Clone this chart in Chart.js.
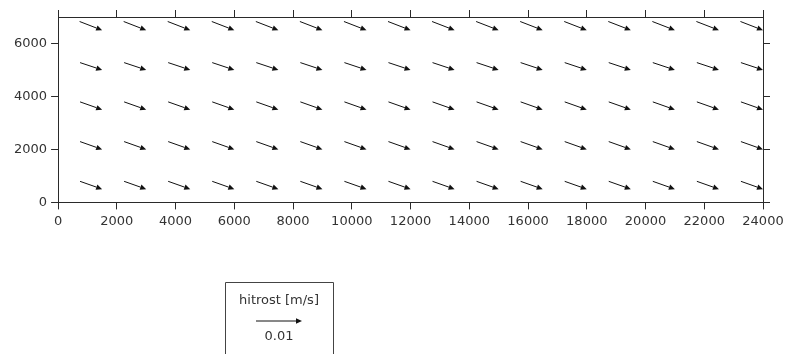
<!DOCTYPE html>
<html>
<head>
<meta charset="utf-8">
<style>
  html, body { margin: 0; padding: 0; background: #fff; }
  #wrap { width: 789px; height: 354px; position: relative; }
</style>
<script src="https://cdn.jsdelivr.net/npm/chart.js@4.4.1/dist/chart.umd.min.js"></script>
</head>
<body>
<div id="wrap"><canvas id="c"></canvas></div>
<script>
// ============ DATA ============
// grid nodes (arrow heads sit on the node)
const xNodes = [1500, 3000, 4500, 6000, 7500, 9000, 10500, 12000, 13500, 15000, 16500, 18000, 19500, 21000, 22500, 24000];
const yNodes = [500, 2000, 3500, 5000, 6500];
// velocity components [m/s], one row per yNode
const uRows = [
  [0.0048,0.0048,0.0048,0.0048,0.0048,0.0048,0.0048,0.0048,0.0048,0.0048,0.0048,0.0048,0.0048,0.0048,0.0048,0.0048],
  [0.0048,0.0048,0.0048,0.0048,0.0048,0.0048,0.0048,0.0048,0.0048,0.0048,0.0048,0.0048,0.0048,0.0048,0.0048,0.0048],
  [0.0048,0.0048,0.0048,0.0048,0.0048,0.0048,0.0048,0.0048,0.0048,0.0048,0.0048,0.0048,0.0048,0.0048,0.0048,0.0048],
  [0.0048,0.0048,0.0048,0.0048,0.0048,0.0048,0.0048,0.0048,0.0048,0.0048,0.0048,0.0048,0.0048,0.0048,0.0048,0.0048],
  [0.0049,0.0049,0.0049,0.0049,0.0049,0.0049,0.0049,0.0049,0.0049,0.0049,0.0049,0.0049,0.0049,0.0049,0.0049,0.0049]
];
const vRows = [
  [-0.0017,-0.0017,-0.0017,-0.0017,-0.0017,-0.0017,-0.0017,-0.0017,-0.0017,-0.0017,-0.0017,-0.0017,-0.0017,-0.0017,-0.0017,-0.0017],
  [-0.0017,-0.0017,-0.0017,-0.0017,-0.0017,-0.0017,-0.0017,-0.0017,-0.0017,-0.0017,-0.0017,-0.0017,-0.0017,-0.0017,-0.0017,-0.0017],
  [-0.0017,-0.0017,-0.0017,-0.0017,-0.0017,-0.0017,-0.0017,-0.0017,-0.0017,-0.0017,-0.0017,-0.0017,-0.0017,-0.0017,-0.0017,-0.0017],
  [-0.0016,-0.0016,-0.0016,-0.0016,-0.0016,-0.0016,-0.0016,-0.0016,-0.0016,-0.0016,-0.0016,-0.0016,-0.0016,-0.0016,-0.0016,-0.0016],
  [-0.0019,-0.0019,-0.0019,-0.0019,-0.0019,-0.0019,-0.0019,-0.0019,-0.0019,-0.0019,-0.0019,-0.0019,-0.0019,-0.0019,-0.0019,-0.0019]
];
const xTicks = [0, 2000, 4000, 6000, 8000, 10000, 12000, 14000, 16000, 18000, 20000, 22000, 24000];
const yTicks = [0, 2000, 4000, 6000];
const legendTitle = 'hitrost [m/s]';
const legendSpeed = 0.01;

// ============ STYLE ============
const PX_PER_MS = 4600;   // arrow length scale, px per m/s
const AX = '#2a2a2a';
const TXT = '#333';
const FAM = "'DejaVu Sans', 'Liberation Sans', Arial, sans-serif";
const FONT = { family: FAM, size: 13 };

function drawArrow(ctx, x0, y0, x1, y1) {
  const ang = Math.atan2(y1 - y0, x1 - x0);
  const hl = 6, hw = 2.7;
  const bx = x1 - hl * Math.cos(ang), by = y1 - hl * Math.sin(ang);
  ctx.beginPath();
  ctx.moveTo(x0, y0);
  ctx.lineTo(bx, by);
  ctx.stroke();
  ctx.beginPath();
  ctx.moveTo(x1, y1);
  ctx.lineTo(bx + hw * Math.sin(ang), by - hw * Math.cos(ang));
  ctx.lineTo(bx - hw * Math.sin(ang), by + hw * Math.cos(ang));
  ctx.closePath();
  ctx.fill();
}

const quiver = {
  id: 'quiver',
  afterDatasetsDraw(chart) {
    const { ctx, scales: { x, y } } = chart;
    ctx.save();
    ctx.strokeStyle = '#111';
    ctx.fillStyle = '#111';
    ctx.lineWidth = 1;
    yNodes.forEach((yv, j) => {
      xNodes.forEach((xv, i) => {
        const hx = x.getPixelForValue(xv), hy = y.getPixelForValue(yv);
        const dx = uRows[j][i] * PX_PER_MS, dy = -vRows[j][i] * PX_PER_MS;
        drawArrow(ctx, hx - dx, hy - dy, hx, hy);
      });
    });
    ctx.restore();
  },
  afterDraw(chart) {
    const ctx = chart.ctx;
    ctx.save();
    // legend box
    ctx.strokeStyle = '#444';
    ctx.lineWidth = 1;
    ctx.beginPath();
    ctx.moveTo(225.5, 360);
    ctx.lineTo(225.5, 282.5);
    ctx.lineTo(333.5, 282.5);
    ctx.lineTo(333.5, 360);
    ctx.stroke();
    ctx.fillStyle = TXT;
    ctx.font = '13px ' + FAM;
    ctx.textAlign = 'center';
    ctx.textBaseline = 'middle';
    ctx.fillText(legendTitle, 279, 301);
    ctx.fillText(String(legendSpeed), 279, 337);
    ctx.strokeStyle = '#111';
    ctx.fillStyle = '#111';
    const len = legendSpeed * PX_PER_MS;
    drawArrow(ctx, 302 - len, 321, 302, 321);
    ctx.restore();
  }
};

const axisBase = (pos, showLabels, tickList) => ({
  type: 'linear',
  position: pos,
  grid: { drawOnChartArea: false, drawTicks: true, tickLength: 7, color: AX, lineWidth: 1 },
  border: { display: true, color: AX, width: 1 },
  ticks: { display: showLabels, color: TXT, font: FONT, padding: 4, maxRotation: 0, autoSkip: false, callback: v => String(v) },
  afterBuildTicks: s => { s.ticks = tickList.map(v => ({ value: v })); }
});

new Chart(document.getElementById('c'), {
  type: 'scatter',
  data: {
    datasets: [{
      data: yNodes.flatMap(yv => xNodes.map(xv => ({ x: xv, y: yv }))),
      pointRadius: 0,
      clip: false
    }]
  },
  options: {
    responsive: true,
    maintainAspectRatio: false,
    animation: false,
    layout: { padding: { left: 10, top: 10, right: 19, bottom: 121 } },
    plugins: { legend: { display: false }, tooltip: { enabled: false } },
    scales: {
      x: { ...axisBase('bottom', true, xTicks), min: 0, max: 24000 },
      x2: { ...axisBase('top', false, xTicks), min: 0, max: 24000 },
      y: { ...axisBase('left', true, yTicks), min: 0, max: 7000 },
      y2: { ...axisBase('right', false, yTicks), min: 0, max: 7000 }
    }
  },
  plugins: [quiver]
});
</script>
</body>
</html>
